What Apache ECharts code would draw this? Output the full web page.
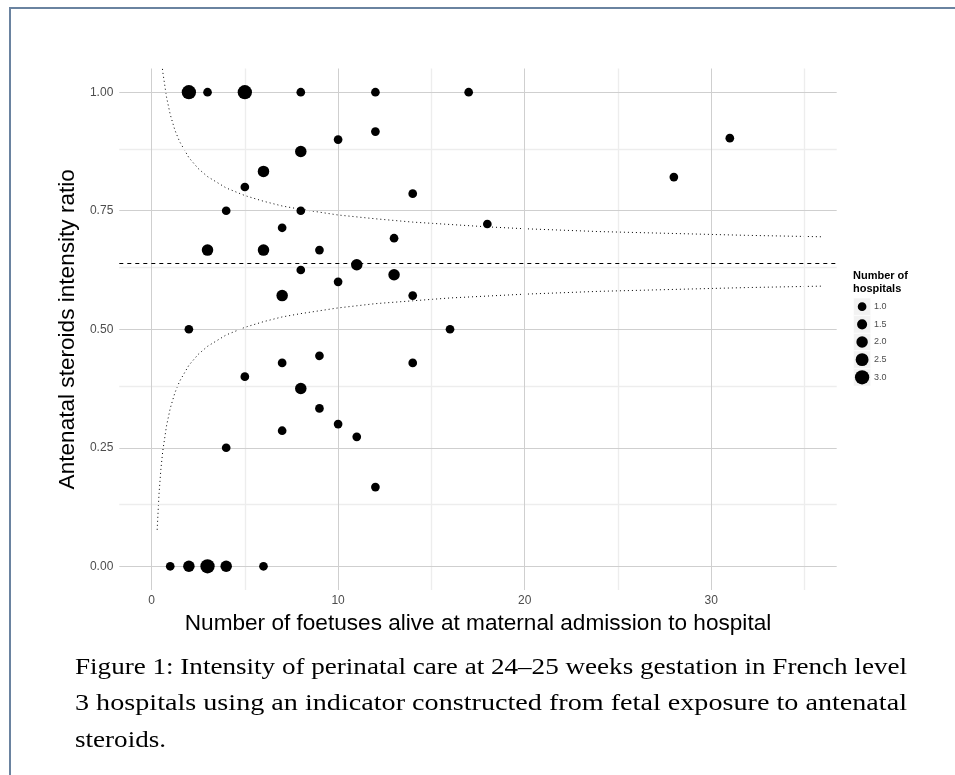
<!DOCTYPE html>
<html><head><meta charset="utf-8">
<script src="https://cdn.jsdelivr.net/npm/echarts@6/dist/echarts.min.js"></script>
<style>html,body{margin:0;padding:0;background:#fff}#c{width:955px;height:775px}</style>
</head><body><div id="c"></div>
<script>
// ---- data ----
const foetuses  = [2, 3, 5, 8, 12, 17, 12, 10, 31, 8, 6, 28, 5, 14, 4, 8, 18, 7, 13, 3, 6, 9, 11, 8, 13, 10, 7, 14, 2, 16, 9, 7, 14, 5, 8, 9, 10, 7, 11, 4, 12, 1, 2, 3, 4, 6];
const ratios    = [1, 1, 1, 1, 1, 1, 0.917, 0.9, 0.903, 0.875, 0.833, 0.821, 0.8, 0.786, 0.75, 0.75, 0.722, 0.714, 0.692, 0.667, 0.667, 0.667, 0.636, 0.625, 0.615, 0.6, 0.571, 0.571, 0.5, 0.5, 0.444, 0.429, 0.429, 0.4, 0.375, 0.333, 0.3, 0.286, 0.273, 0.25, 0.167, 0, 0, 0, 0, 0];
const hospitals = [3, 1, 3, 1, 1, 1, 1, 1, 1, 2, 2, 1, 1, 1, 1, 1, 1, 1, 1, 2, 2, 1, 2, 1, 2, 1, 2, 1, 1, 1, 1, 1, 1, 1, 2, 1, 1, 1, 1, 1, 1, 1, 2, 3, 2, 1];
const meanRatio = 0.643;
const funnelX     = [0.3, 0.4, 0.5, 0.6, 0.8, 1, 1.25, 1.5, 2, 2.5, 3, 4, 5, 6, 7, 8, 10, 12, 14, 16, 18, 20, 24, 28, 32, 36];
const funnelUpper = [1.209, 1.133, 1.081, 1.043, 0.990, 0.953, 0.920, 0.896, 0.862, 0.839, 0.822, 0.798, 0.782, 0.770, 0.760, 0.753, 0.741, 0.733, 0.726, 0.721, 0.716, 0.712, 0.706, 0.702, 0.698, 0.695];
const funnelLower = [0.077, 0.153, 0.205, 0.243, 0.296, 0.333, 0.366, 0.390, 0.424, 0.447, 0.464, 0.488, 0.504, 0.516, 0.526, 0.533, 0.545, 0.554, 0.560, 0.566, 0.570, 0.574, 0.580, 0.584, 0.588, 0.591];
const xTicks = [0, 10, 20, 30];
const xMinorTicks = [5, 15, 25, 35];
const yTicks = [0, 0.25, 0.5, 0.75, 1];
const yMinorTicks = [0.125, 0.375, 0.625, 0.875];
const sizeLegend = [1.0, 1.5, 2.0, 2.5, 3.0];
const captionLines = [
  'Figure 1: Intensity of perinatal care at 24\u201325 weeks gestation in French level',
  '3 hospitals using an indicator constructed from fetal exposure to antenatal',
  'steroids.'
];

// ---- styling ----
const sizeFor = n => 8.7 + 2.8 * (n - 1);
const SANS = '"Liberation Sans", Arial, sans-serif';
const SERIF_FONT = '24px "Liberation Serif", serif';
const majorStyle = { color: '#cfcfcf', width: 1, type: 'solid' };
const minorStyle = { color: '#ededed', width: 1.4, type: 'solid' };

const gridLines = []
  .concat(xMinorTicks.map(v => ({ xAxis: v, lineStyle: minorStyle })))
  .concat(yMinorTicks.map(v => ({ yAxis: v, lineStyle: minorStyle })))
  .concat(xTicks.map(v => ({ xAxis: v, lineStyle: majorStyle })))
  .concat(yTicks.map(v => ({ yAxis: v, lineStyle: majorStyle })));

const graphics = [
  { type: 'line', shape: { x1: 9, y1: 8, x2: 955, y2: 8 }, style: { stroke: '#6a83a0', lineWidth: 2 } },
  { type: 'line', shape: { x1: 10, y1: 7, x2: 10, y2: 775 }, style: { stroke: '#6a83a0', lineWidth: 2 } },
  { type: 'text', x: 853, y: 270, style: { text: 'Number of\nhospitals', font: 'bold 11px ' + SANS, fill: '#000', lineHeight: 12.7 } }
];
sizeLegend.forEach((v, i) => {
  const cy = 306.7 + 17.65 * i;
  graphics.push({ type: 'rect', shape: { x: 853.5, y: cy - 8.6, width: 17.2, height: 17.2 }, style: { fill: '#f2f2f2', stroke: '#fff', lineWidth: 0.5 } });
  graphics.push({ type: 'circle', shape: { cx: 862.1, cy: cy, r: sizeFor(v) / 2 }, style: { fill: '#000' } });
  graphics.push({ type: 'text', x: 874, y: cy, style: { text: v.toFixed(1), font: '9px ' + SANS, fill: '#4d4d4d', textVerticalAlign: 'middle', verticalAlign: 'middle' } });
});

// caption: widen the serif font to the measure of the justified original lines
const mctx = document.createElement('canvas').getContext('2d');
mctx.font = SERIF_FONT;
const fullWidth = 832;
const firstScale = fullWidth / mctx.measureText(captionLines[0]).width;
captionLines.forEach((t, i) => {
  const s = i < captionLines.length - 1 ? fullWidth / mctx.measureText(t).width : firstScale;
  graphics.push({ type: 'text', x: 75, y: 668 + 36.2 * i, scaleX: s,
    style: { text: t, font: SERIF_FONT, fill: '#000', textVerticalAlign: 'middle', verticalAlign: 'middle' } });
});

const chart = echarts.init(document.getElementById('c'), null, { renderer: 'canvas' });
chart.setOption({
  animation: false,
  backgroundColor: '#fff',
  grid: { left: 119.3, right: 118.3, top: 68.5, bottom: 185, containLabel: false },
  xAxis: {
    type: 'value', min: -1.73, max: 36.73,
    axisLine: { show: false }, axisTick: { show: false }, splitLine: { show: false },
    axisLabel: { customValues: xTicks, formatter: v => String(v), color: '#4d4d4d', fontSize: 12, fontFamily: SANS, margin: 5 },
    name: 'Number of foetuses alive at maternal admission to hospital',
    nameLocation: 'middle', nameGap: 18,
    nameTextStyle: { fontSize: 22.6, fontFamily: SANS, color: '#000' }
  },
  yAxis: {
    type: 'value', min: -0.05, max: 1.05,
    axisLine: { show: false }, axisTick: { show: false }, splitLine: { show: false },
    axisLabel: { customValues: yTicks, formatter: v => v.toFixed(2), color: '#4d4d4d', fontSize: 12, fontFamily: SANS, margin: 6 },
    name: 'Antenatal steroids intensity ratio',
    nameLocation: 'middle', nameGap: 31,
    nameTextStyle: { fontSize: 22.6, fontFamily: SANS, color: '#000' }
  },
  series: [
    {
      name: 'grid', type: 'line', z: 1, silent: true,
      data: [[0, 0]], symbol: 'none', lineStyle: { opacity: 0 },
      markLine: { silent: true, symbol: ['none', 'none'], label: { show: false }, animation: false, data: gridLines }
    },
    {
      name: 'upper', type: 'line', z: 3, silent: true, symbol: 'none', clip: true,
      data: funnelX.map((x, i) => [x, funnelUpper[i]]),
      lineStyle: { color: '#000', width: 1, type: [1, 3] }
    },
    {
      name: 'lower', type: 'line', z: 3, silent: true, symbol: 'none', clip: true,
      data: funnelX.map((x, i) => [x, funnelLower[i]]),
      lineStyle: { color: '#000', width: 1, type: [1, 3] },
      markLine: { silent: true, symbol: ['none', 'none'], label: { show: false },
        data: [{ yAxis: meanRatio, lineStyle: { color: '#000', width: 1, type: [4, 4] } }] }
    },
    {
      name: 'hospitals', type: 'scatter', z: 5,
      data: foetuses.map((x, i) => [x, ratios[i], hospitals[i]]),
      symbolSize: v => sizeFor(v[2]),
      itemStyle: { color: '#000', opacity: 1 }
    }
  ],
  graphic: graphics
});
</script>
</body></html>
